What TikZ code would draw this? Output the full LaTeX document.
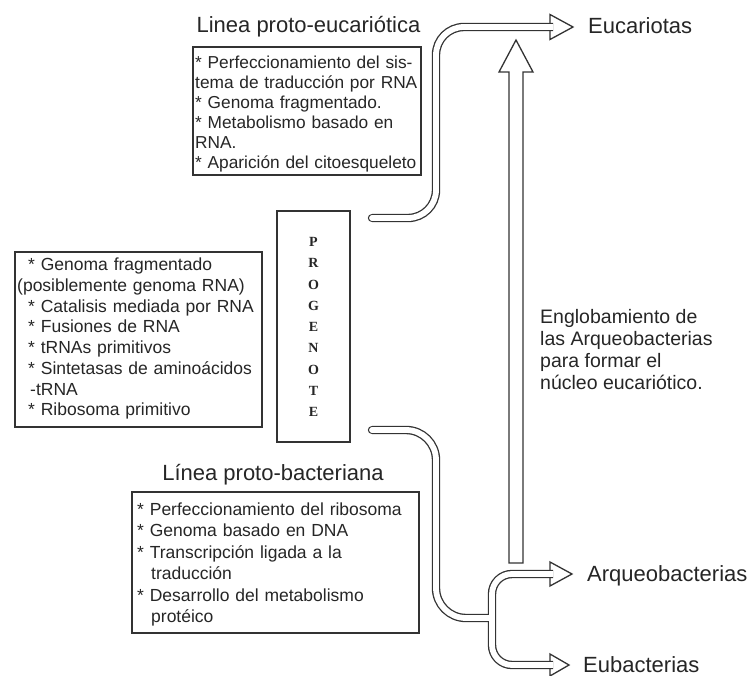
\documentclass[tikz,border=0pt]{standalone}
\usepackage{fontspec}
\setmainfont{Liberation Sans}
\newfontfamily\progfont{Liberation Serif}
\begin{document}
\begin{tikzpicture}[x=1pt,y=-1pt,
  frame/.style={draw=black!80, line width=1.1pt, inner sep=0pt},
  boxtext/.style={inner sep=0pt, anchor=north west, align=left, text=black!85},
  heading/.style={inner sep=0pt, anchor=base, text=black!85, font=\fontsize{22}{26}\selectfont},
  branchlabel/.style={inner sep=0pt, anchor=base west, text=black!85, font=\fontsize{22}{26}\selectfont},
  tubeout/.style={draw=black!80, line width=8.4pt, line cap=butt, line join=round},
  tubein/.style={draw=white, line width=5.8pt, line cap=butt, line join=round},
  headtri/.style={draw=black!80, fill=white, line width=1.3pt, line join=miter},
]
\useasboundingbox[fill=white] (0,0) rectangle (749,676);

% ---- headings ----
\node[heading] (t-euk) at (308.5,33) {Linea proto-eucariótica};
\node[heading] (t-bac) at (273,480) {Línea proto-bacteriana};

% ---- frames ----
\node[frame, minimum width=228pt, minimum height=128pt] (b-euk) at (307,111) {};
\node[frame, minimum width=247pt, minimum height=175pt] (b-prog) at (138.5,339.5) {};
\node[frame, minimum width=287pt, minimum height=141pt] (b-bac) at (275.5,562.5) {};
\node[frame, minimum width=73pt, minimum height=231pt] (prog) at (313.5,326.5) {};

% ---- box contents ----
\node[boxtext, text width=224pt, font=\fontsize{17.3}{20}\selectfont] (x-euk) at (195,56)
  {* Perfeccionamiento del sis-\\{}tema de traducción por RNA\\{}* Genoma fragmentado.\\{}* Metabolismo basado en\\{}RNA.\\{}* Aparición del citoesqueleto};
\node[boxtext, text width=244pt, font=\fontsize{17.5}{20.7}\selectfont] (x-prog) at (17,258)
  {\hspace*{11pt}* Genoma fragmentado\\{}(posiblemente genoma RNA)\\\hspace*{11pt}* Catalisis mediada por RNA\\\hspace*{11pt}* Fusiones de RNA\\\hspace*{11pt}* tRNAs primitivos\\\hspace*{11pt}* Sintetasas de aminoácidos\\\hspace*{13pt}-tRNA\\\hspace*{11pt}* Ribosoma primitivo};
\node[boxtext, text width=280pt, font=\fontsize{17.5}{21.4}\selectfont] (x-bac) at (137,502.7)
  {* Perfeccionamiento del ribosoma\\{}* Genoma basado en DNA\\{}* Transcripción ligada a la\\\hspace*{14pt}traducción\\{}* Desarrollo del metabolismo\\\hspace*{14pt}protéico};
\node[inner sep=0pt, anchor=north, align=center, text=black!85, font=\progfont\bfseries\fontsize{14}{21.25}\selectfont] (x-prog-word) at (313.5,237.3)
  {P\\R\\O\\G\\E\\N\\O\\T\\E};
\node[boxtext, font=\fontsize{19.5}{22}\selectfont] (x-engl) at (540,309.3)
  {Englobamiento de\\{}las Arqueobacterias\\{}para formar el\\{}núcleo eucariótico.};

% ---- branch labels ----
\node[branchlabel] (euk) at (588,34) {Eucariotas};
\node[branchlabel] (arq) at (587,581) {Arqueobacterias};
\node[branchlabel] (eub) at (583,672) {Eubacterias};

% ---- end points of the tubes ----
\coordinate (s-up) at (372,218);
\coordinate (s-down) at (372,430);
\coordinate (junction) at (492,618);
\coordinate (e-euk) at (553,27);
\coordinate (e-arq) at (553,574);
\coordinate (e-eub) at (553,665);

% ---- open arrow heads ----
\draw[headtri] (550,14.5) -- (573,27) -- (550,39.5) -- cycle;
\draw[headtri] (550,562) -- (572,574) -- (550,586) -- cycle;
\draw[headtri] (550,654) -- (569,665) -- (550,676) -- cycle;

% ---- hollow tubes: outline pass ----
\draw[tubeout, rounded corners=28pt] (s-up) -- (436,218) -- (436,27) -- (e-euk);
\draw[tubeout, rounded corners=30pt] (s-down) -- (436,430) -- (436,618) -- (junction);
\draw[tubeout, rounded corners=20pt] (e-arq) -- (492,574) -- (492,665) -- (e-eub);
\draw[tubeout, line cap=round] (s-up) -- ++(8,0);
\draw[tubeout, line cap=round] (s-down) -- ++(8,0);
% ---- hollow tubes: interior pass ----
\draw[tubein, rounded corners=28pt] (s-up) -- (436,218) -- (436,27) -- (e-euk);
\draw[tubein, rounded corners=30pt] (s-down) -- (436,430) -- (436,618) -- (junction);
\draw[tubein, rounded corners=20pt] (e-arq) -- (492,574) -- (492,665) -- (e-eub);
\draw[tubein, line cap=round] (s-up) -- ++(8,0);
\draw[tubein, line cap=round] (s-down) -- ++(8,0);

% ---- wide hollow arrow (engulfment) ----
\draw[draw=black!80, line width=1.3pt, line join=miter]
  (509,563) -- (509,72) -- (499,72) -- (516,40) -- (533,72) -- (523,72) -- (523,563) -- cycle;
\end{tikzpicture}
\end{document}
